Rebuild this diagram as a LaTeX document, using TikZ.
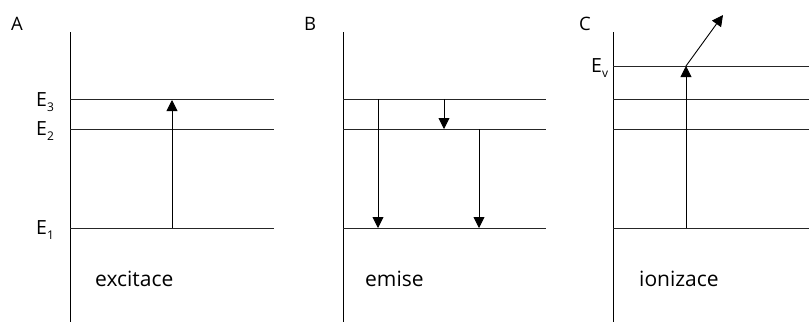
\documentclass[tikz,border=0pt]{standalone}
\usepackage{fontspec}
\setmainfont{Open Sans}
\usetikzlibrary{arrows.meta}
\begin{document}
\begin{tikzpicture}[x=1pt,y=-1pt,
  axisline/.style={line width=0.9pt,black},
  level/.style={line width=0.9pt,black!85},
  trans/.style={line width=0.9pt,black,-{Triangle[length=11pt,width=11pt]}},
  panellbl/.style={inner sep=0pt,anchor=base west,font=\fontsize{18.5}{18.5}\selectfont},
  elbl/.style={inner sep=0pt,anchor=base west,font=\fontsize{19.5}{19.5}\selectfont},
  proc/.style={inner sep=0pt,anchor=base west,font=\fontsize{21}{21}\selectfont}]
\useasboundingbox (0,0) rectangle (809,322);
\newcommand{\sbx}[1]{\raisebox{-5.5pt}{\fontsize{12}{12}\selectfont #1}}
% ---------- Panel A ----------
\coordinate (a0) at (70,32); \coordinate (a1) at (70,322);
\draw[axisline] (a0) -- (a1);
\coordinate (a3l) at (70,99); \coordinate (a3r) at (274,99);
\coordinate (a2l) at (70,129); \coordinate (a2r) at (274,129);
\coordinate (a1l) at (70,228); \coordinate (a1r) at (274,228);
\draw[level] (a3l) -- (a3r);
\draw[level] (a2l) -- (a2r);
\draw[level] (a1l) -- (a1r);
\coordinate (ex1) at (172,228); \coordinate (ex2) at (172,100);
\draw[trans] (ex1) -- (ex2);
\node[panellbl] (lA) at (11,30) {A};
\node[elbl] (lE3) at (36,106) {E\sbx{3}};
\node[elbl] (lE2) at (36,135) {E\sbx{2}};
\node[elbl] (lE1) at (36,234) {E\sbx{1}};
\node[proc] (tA) at (95,286) {excitace};
% ---------- Panel B ----------
\coordinate (b0) at (343,32); \coordinate (b1) at (343,322);
\draw[axisline] (b0) -- (b1);
\coordinate (b3l) at (343,99); \coordinate (b3r) at (546,99);
\coordinate (b2l) at (343,129); \coordinate (b2r) at (546,129);
\coordinate (b1l) at (343,228); \coordinate (b1r) at (546,228);
\draw[level] (b3l) -- (b3r);
\draw[level] (b2l) -- (b2r);
\draw[level] (b1l) -- (b1r);
\coordinate (em1s) at (378,99); \coordinate (em1e) at (378,228);
\coordinate (em2s) at (444,99); \coordinate (em2e) at (444,129);
\coordinate (em3s) at (479,129); \coordinate (em3e) at (479,228);
\draw[trans] (em1s) -- (em1e);
\draw[trans] (em2s) -- (em2e);
\draw[trans] (em3s) -- (em3e);
\node[panellbl] (lB) at (304,30) {B};
\node[proc] (tB) at (365,286) {emise};
% ---------- Panel C ----------
\coordinate (c0) at (613,32); \coordinate (c1) at (613,322);
\draw[axisline] (c0) -- (c1);
\coordinate (cvl) at (613,66); \coordinate (cvr) at (809,66);
\coordinate (c3l) at (613,99); \coordinate (c3r) at (809,99);
\coordinate (c2l) at (613,129); \coordinate (c2r) at (809,129);
\coordinate (c1l) at (613,228); \coordinate (c1r) at (809,228);
\draw[level] (cvl) -- (cvr);
\draw[level] (c3l) -- (c3r);
\draw[level] (c2l) -- (c2r);
\draw[level] (c1l) -- (c1r);
\coordinate (io1) at (686,228); \coordinate (io2) at (686,66);
\coordinate (io3) at (723,15);
\draw[trans] (io1) -- (io2);
\draw[trans] (io2) -- (io3);
\node[panellbl] (lC) at (579,30) {C};
\node[elbl] (lEv) at (591,72) {E\sbx{v}};
\node[proc] (tC) at (639,286) {ionizace};
\end{tikzpicture}
\end{document}
